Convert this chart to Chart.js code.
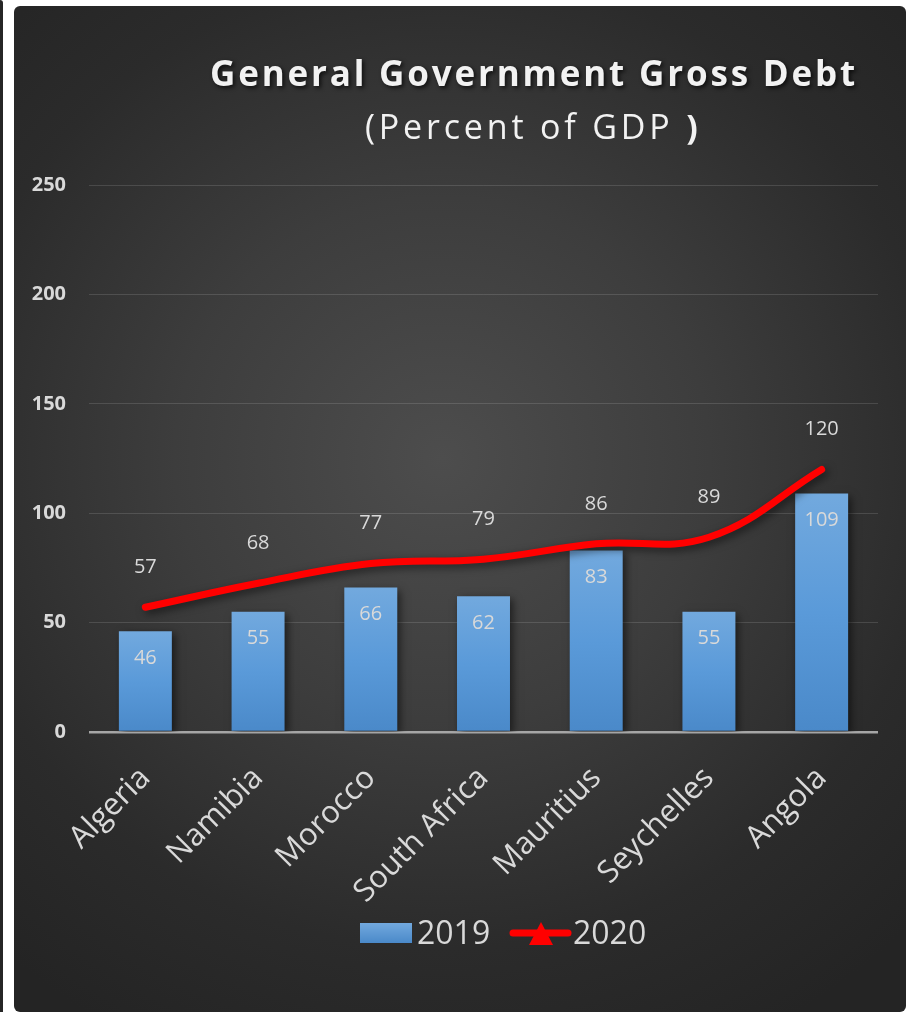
<!DOCTYPE html>
<html>
<head>
<meta charset="utf-8">
<script src="https://cdn.jsdelivr.net/npm/chart.js@4"></script>
<style>
  html, body { margin: 0; padding: 0; background: #ffffff; }
  body { width: 910px; height: 1017px; position: relative; overflow: hidden; }
  #strip { position: absolute; left: 0; top: 0; width: 3px; height: 1012px; background: #262626; border-top-right-radius: 4px; }
  #panel {
    position: absolute; left: 14px; top: 6px; width: 892px; height: 1006px;
    border-radius: 6px;
    background: radial-gradient(ellipse 75% 65% at 48% 45%, #4d4d4d 0%, #3d3d3d 40%, #2b2b2b 75%, #242424 100%);
  }
  #panel canvas { position: absolute; left: 0; top: 0; }
</style>
</head>
<body>
<div id="strip"></div>
<div id="panel"><canvas id="debtChart" width="892" height="1006"></canvas></div>
<script>
// ---- data ----
const countries = ["Algeria", "Namibia", "Morocco", "South Africa", "Mauritius", "Seychelles", "Angola"];
const debt2019 = [46, 55, 66, 62, 83, 55, 109];
const debt2020 = [57, 68, 77, 79, 86, 89, 120];
const yTicks = [0, 50, 100, 150, 200, 250];
const seriesNames = ["2019", "2020"];
const titleMain = "General Government Gross Debt";
const titleSub = "(Percent of GDP ";

const FONT = "'Open Sans', 'DejaVu Sans', sans-serif";
const LABEL_GREY = "#d9d9d9";

// blue gradient for each bar (lighter on top)
function barFill(ctx) {
    const chart = ctx.chart;
    const y = chart.scales.y;
    if (!y || typeof ctx.raw !== "number") return "#5b9bd5";
    const top = y.getPixelForValue(ctx.raw);
    const bottom = y.getPixelForValue(0);
    if (!isFinite(top) || !isFinite(bottom)) return "#5b9bd5";
    const g = chart.ctx.createLinearGradient(0, top, 0, bottom);
    g.addColorStop(0, "#72a9de");
    g.addColorStop(0.5, "#5a9ad9");
    g.addColorStop(1, "#4a89c9");
    return g;
}

// shadow under bars and line
const shadowPlugin = {
    id: "shadows",
    beforeDatasetsDraw(chart) {
        const c = chart.ctx;
        c.save();
        c.shadowColor = "rgba(0,0,0,0.55)";
        c.shadowBlur = 8;
        c.shadowOffsetX = 3;
        c.shadowOffsetY = 3;
    },
    afterDatasetsDraw(chart) {
        chart.ctx.restore();
    }
};

// value labels
const valueLabels = {
    id: "valueLabels",
    afterDatasetsDraw(chart) {
        const c = chart.ctx;
        c.save();
        c.shadowColor = "rgba(0,0,0,0)";
        c.font = "20px " + FONT;
        c.fillStyle = LABEL_GREY;
        c.textAlign = "center";
        c.textBaseline = "middle";
        chart.getDatasetMeta(1).data.forEach((bar, i) => {
            c.fillText(String(debt2019[i]), bar.x, bar.y + 27);
        });
        chart.getDatasetMeta(0).data.forEach((pt, i) => {
            c.fillText(String(debt2020[i]), pt.x, pt.y - 40);
        });
        c.restore();
    }
};

// spread text so it spans a given width
function fitSpacing(c, text, width) {
    c.letterSpacing = "0px";
    const w = c.measureText(text).width;
    return Math.max(0, (width - w) / text.length);
}

// titles + legend (panel offset 14,6)
const decorations = {
    id: "decorations",
    afterDraw(chart) {
        const c = chart.ctx;
        c.save();
        // main title
        c.shadowColor = "rgba(0,0,0,0.7)";
        c.shadowBlur = 4;
        c.shadowOffsetX = 2;
        c.shadowOffsetY = 2;
        c.fillStyle = "#f2f2f2";
        c.textBaseline = "alphabetic";
        c.textAlign = "left";
        c.font = "bold 35px " + FONT;
        c.letterSpacing = fitSpacing(c, titleMain, 648) + "px";
        c.fillText(titleMain, 210 - 14, 86 - 6);

        // subtitle
        c.shadowColor = "rgba(0,0,0,0)";
        c.font = "34px " + FONT;
        const sp = fitSpacing(c, titleSub + ")", 335);
        c.letterSpacing = sp + "px";
        c.fillText(titleSub, 365 - 14, 139 - 6);
        const sw = c.measureText(titleSub).width;
        c.font = "bold 34px " + FONT;
        c.fillText(")", 365 - 14 + sw, 139 - 6);
        c.letterSpacing = "0px";

        // legend
        const ox = -14, oy = -6;
        const g = c.createLinearGradient(0, 923 + oy, 0, 943 + oy);
        g.addColorStop(0, "#72a9de");
        g.addColorStop(1, "#4a89c9");
        c.fillStyle = g;
        c.fillRect(360 + ox, 923 + oy, 52, 20);
        c.font = "32px " + FONT;
        c.fillStyle = LABEL_GREY;
        c.textBaseline = "alphabetic";
        c.fillText(seriesNames[0], 417 + ox, 944 + oy);

        c.strokeStyle = "#ff0000";
        c.lineWidth = 7;
        c.lineCap = "round";
        c.beginPath();
        c.moveTo(513 + ox, 933 + oy);
        c.lineTo(568 + ox, 933 + oy);
        c.stroke();
        c.fillStyle = "#ff0000";
        c.beginPath();
        c.moveTo(541 + ox, 922 + oy);
        c.lineTo(553 + ox, 945 + oy);
        c.lineTo(529 + ox, 945 + oy);
        c.closePath();
        c.fill();
        c.fillStyle = LABEL_GREY;
        c.fillText(seriesNames[1], 573 + ox, 944 + oy);
        c.restore();
    }
};

new Chart(document.getElementById("debtChart"), {
    data: {
        labels: countries,
        datasets: [
            {
                type: "line",
                label: seriesNames[1],
                data: debt2020,
                borderColor: "#ff0000",
                backgroundColor: "#ff0000",
                borderWidth: 7,
                borderCapStyle: "round",
                tension: 0.4,
                pointRadius: 0,
                pointStyle: "triangle",
                order: 0
            },
            {
                type: "bar",
                label: seriesNames[0],
                data: debt2019,
                backgroundColor: barFill,
                barPercentage: 0.47,
                categoryPercentage: 1,
                order: 1
            }
        ]
    },
    options: {
        responsive: false,
        animation: false,
        layout: { padding: { left: 0, right: 28, top: 179, bottom: 0 } },
        plugins: {
            legend: { display: false },
            title: { display: false },
            tooltip: { enabled: false }
        },
        scales: {
            x: {
                offset: true,
                grid: { display: false, drawTicks: false },
                border: { display: false },
                ticks: {
                    autoSkip: false,
                    minRotation: 45,
                    maxRotation: 45,
                    padding: 28,
                    color: LABEL_GREY,
                    font: { family: FONT, size: 31 }
                },
                afterFit(axis) { axis.height = 280; }
            },
            y: {
                min: 0,
                max: 250,
                afterBuildTicks(axis) { axis.ticks = yTicks.map(v => ({ value: v })); },
                grid: {
                    drawTicks: false,
                    color: (ctx) => ctx.tick && ctx.tick.value === 0 ? "#a6a6a6" : "rgba(255,255,255,0.13)",
                    lineWidth: (ctx) => ctx.tick && ctx.tick.value === 0 ? 2.5 : 1
                },
                border: { display: false },
                ticks: {
                    padding: 23,
                    color: LABEL_GREY,
                    font: { family: FONT, size: 20, weight: "bold" }
                },
                afterFit(axis) { axis.width = 75; }
            }
        }
    },
    plugins: [shadowPlugin, valueLabels, decorations]
});
</script>
</body>
</html>
